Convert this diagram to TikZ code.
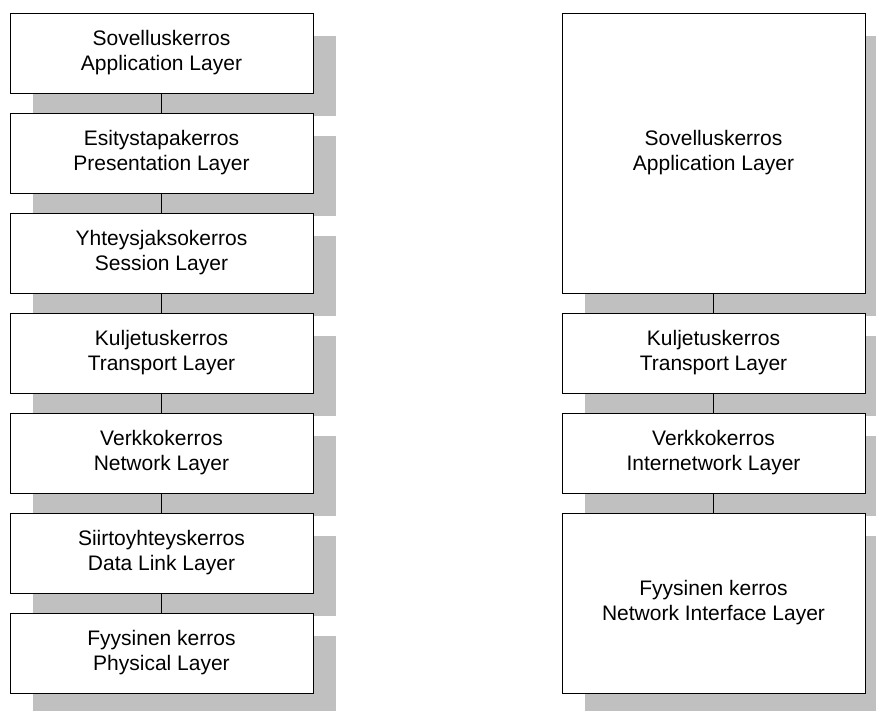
\documentclass[tikz,border=0pt]{standalone}
\usepackage{fontspec}
\setmainfont{Liberation Sans}
\usetikzlibrary{shadows}
\definecolor{shadowgray}{HTML}{C0C0C0}
\begin{document}
\begin{tikzpicture}[x=1pt,y=-1pt,
  layerbox/.style={draw=black, line width=0.9pt, fill=white, rectangle,
    minimum width=303pt, inner sep=0pt, outer sep=0pt, align=center,
    font=\fontsize{21}{25}\selectfont,
    general shadow={fill=shadowgray, shadow xshift=23pt, shadow yshift=-23pt}},
  link/.style={draw=black, line width=0.9pt}]
\useasboundingbox (0,0) rectangle (876,711);
\clip (0,0) rectangle (876,711);

% OSI reference model
\node[layerbox, minimum height=80pt] (o7) at (161.5,53)  {Sovelluskerros\\Application Layer};
\node[layerbox, minimum height=80pt] (o6) at (161.5,153) {Esitystapakerros\\Presentation Layer};
\node[layerbox, minimum height=80pt] (o5) at (161.5,253) {Yhteysjaksokerros\\Session Layer};
\node[layerbox, minimum height=80pt] (o4) at (161.5,353) {Kuljetuskerros\\Transport Layer};
\node[layerbox, minimum height=80pt] (o3) at (161.5,453) {Verkkokerros\\Network Layer};
\node[layerbox, minimum height=80pt] (o2) at (161.5,553) {Siirtoyhteyskerros\\Data Link Layer};
\node[layerbox, minimum height=80pt] (o1) at (161.5,653) {Fyysinen kerros\\Physical Layer};

\foreach \a/\b in {o7/o6,o6/o5,o5/o4,o4/o3,o3/o2,o2/o1}
  \draw[link] (\a.south) -- (\b.north);

% TCP/IP model
\node[layerbox, minimum height=280pt] (t4) at (713.5,153) {Sovelluskerros\\Application Layer};
\node[layerbox, minimum height=80pt]  (t3) at (713.5,353) {Kuljetuskerros\\Transport Layer};
\node[layerbox, minimum height=80pt]  (t2) at (713.5,453) {Verkkokerros\\Internetwork Layer};
\node[layerbox, minimum height=180pt] (t1) at (713.5,603) {Fyysinen kerros\\Network Interface Layer};

\foreach \a/\b in {t4/t3,t3/t2,t2/t1}
  \draw[link] (\a.south) -- (\b.north);
\end{tikzpicture}
\end{document}
